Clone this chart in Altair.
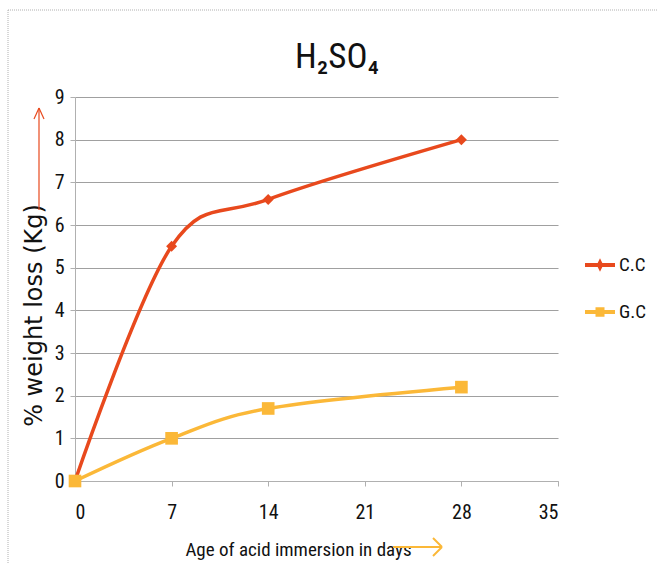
import altair as alt
import pandas as pd

# Days of immersion and % weight loss for each concrete type
days = [0, 7, 14, 28]
cc_loss = [0.0, 5.5, 6.6, 8.0]
gc_loss = [0.0, 1.0, 1.7, 2.2]
series_names = ["C.C", "G.C"]
series_colors = ["#E8491D", "#FBB838"]
x_ticks = [0, 7, 14, 21, 28, 35]
y_ticks = list(range(0, 10))
chart_title = "H₂SO₄"

NARROW = "Liberation Sans Narrow, Arial Narrow, Roboto Condensed, sans-serif"

cc = pd.DataFrame({"day": days, "loss": cc_loss, "series": "C.C"})
gc = pd.DataFrame({"day": days, "loss": gc_loss, "series": "G.C"})

W, H = 483, 384

x_enc = alt.X(
    "day:Q",
    scale=alt.Scale(domain=[0, 35], nice=False),
    axis=alt.Axis(
        values=x_ticks, grid=False, title="Age of acid immersion in days",
        titleX=223, titleY=59, titleAlign="center",
    ),
)
y_enc = alt.Y(
    "loss:Q",
    scale=alt.Scale(domain=[0, 9], nice=False),
    axis=alt.Axis(
        values=y_ticks, grid=True, title="% weight loss  (Kg)",
        titleX=-29, titleY=218, titleAlign="center",
    ),
)


def series_layers(df, color, shape, size):
    line = alt.Chart(df).mark_line(
        color=color, strokeWidth=3.5, interpolate="cardinal"
    ).encode(x=x_enc, y=y_enc)
    pts = alt.Chart(df).mark_point(
        color=color, filled=True, opacity=1, shape=shape, size=size
    ).encode(x=x_enc, y=y_enc)
    return [line, pts]


# Legend: line-with-marker symbols built as custom paths
legend_paths = [
    "M-1,-0.13H1V0.13H-1Z M0,-0.45L0.22,0L0,0.45L-0.22,0Z",
    "M-1,-0.13H1V0.13H-1Z M-0.3,-0.32H0.3V0.32H-0.3Z",
]
legend_opts = dict(
    title=None, orient="none", legendX=510, legendY=153,
    symbolSize=900, rowPadding=22, labelFontSize=19,
    labelFont=NARROW, labelColor="#111", labelOffset=4,
    symbolStrokeWidth=0,
)
legend_layer = alt.Chart(cc).transform_filter("false").mark_point(
    filled=True, opacity=1
).encode(
    color=alt.Color(
        "series:N",
        scale=alt.Scale(domain=series_names, range=series_colors),
        legend=alt.Legend(**legend_opts),
    ),
    shape=alt.Shape(
        "series:N",
        scale=alt.Scale(domain=series_names, range=legend_paths),
        legend=alt.Legend(**legend_opts),
    ),
)

blank = alt.Data(values=[{}])
GRAY = "#b0b0b0"

# Chart heading
heading = alt.Chart(blank).mark_text(
    text=chart_title, font=NARROW, fontSize=35, color="#111",
    align="center", baseline="alphabetic",
).encode(x=alt.value(262), y=alt.value(-29))

# Dotted frame around the chart (top and left edges)
frame_top = alt.Chart(blank).mark_rule(
    color=GRAY, strokeDash=[1, 1], strokeWidth=1
).encode(x=alt.value(-67), x2=alt.value(600), y=alt.value(-87))
frame_left = alt.Chart(blank).mark_rule(
    color=GRAY, strokeDash=[1, 1], strokeWidth=1
).encode(x=alt.value(-67), y=alt.value(-87), y2=alt.value(500))

# Up arrow beside the y title
RED = "#E8491D"
up_shaft = alt.Chart(blank).mark_rule(color=RED, strokeWidth=1.2).encode(
    x=alt.value(-36), y=alt.value(11), y2=alt.value(113))
up_head_l = alt.Chart(blank).mark_rule(color=RED, strokeWidth=1.2).encode(
    x=alt.value(-36), x2=alt.value(-41), y=alt.value(11), y2=alt.value(22))
up_head_r = alt.Chart(blank).mark_rule(color=RED, strokeWidth=1.2).encode(
    x=alt.value(-36), x2=alt.value(-31), y=alt.value(11), y2=alt.value(22))

# Right arrow after the x title
ORG = "#FBB838"
rt_shaft = alt.Chart(blank).mark_rule(color=ORG, strokeWidth=2).encode(
    x=alt.value(318), x2=alt.value(367), y=alt.value(450))
rt_head_u = alt.Chart(blank).mark_rule(color=ORG, strokeWidth=2).encode(
    x=alt.value(367), x2=alt.value(358), y=alt.value(450), y2=alt.value(441))
rt_head_d = alt.Chart(blank).mark_rule(color=ORG, strokeWidth=2).encode(
    x=alt.value(367), x2=alt.value(358), y=alt.value(450), y2=alt.value(459))

layers = (
    series_layers(cc, series_colors[0], "diamond", 120)
    + series_layers(gc, series_colors[1], "square", 160)
    + [legend_layer, heading, frame_top, frame_left,
       up_shaft, up_head_l, up_head_r, rt_shaft, rt_head_u, rt_head_d]
)

chart = alt.layer(*layers).properties(
    width=W, height=H,
    padding={"left": 75, "top": 97, "right": 99, "bottom": 83},
    autosize=alt.AutoSizeParams(type="none"),
    background="white",
).configure_view(
    stroke=None
).configure_axis(
    domainColor=GRAY, tickColor=GRAY, gridColor="#a0a0a0", gridWidth=1.2,
    tickSize=5, labelFont=NARROW, labelFontSize=20, labelColor="#111",
    titleFont=NARROW, titleFontWeight="normal", titleColor="#111",
).configure_axisX(
    labelPadding=16, titleFontSize=19, titleFont=NARROW,
).configure_axisY(
    labelPadding=6, titleFontSize=24, titleFont="DejaVu Sans, sans-serif",
)

chart.save("out.html", embed_options={"renderer": "svg", "actions": False})
